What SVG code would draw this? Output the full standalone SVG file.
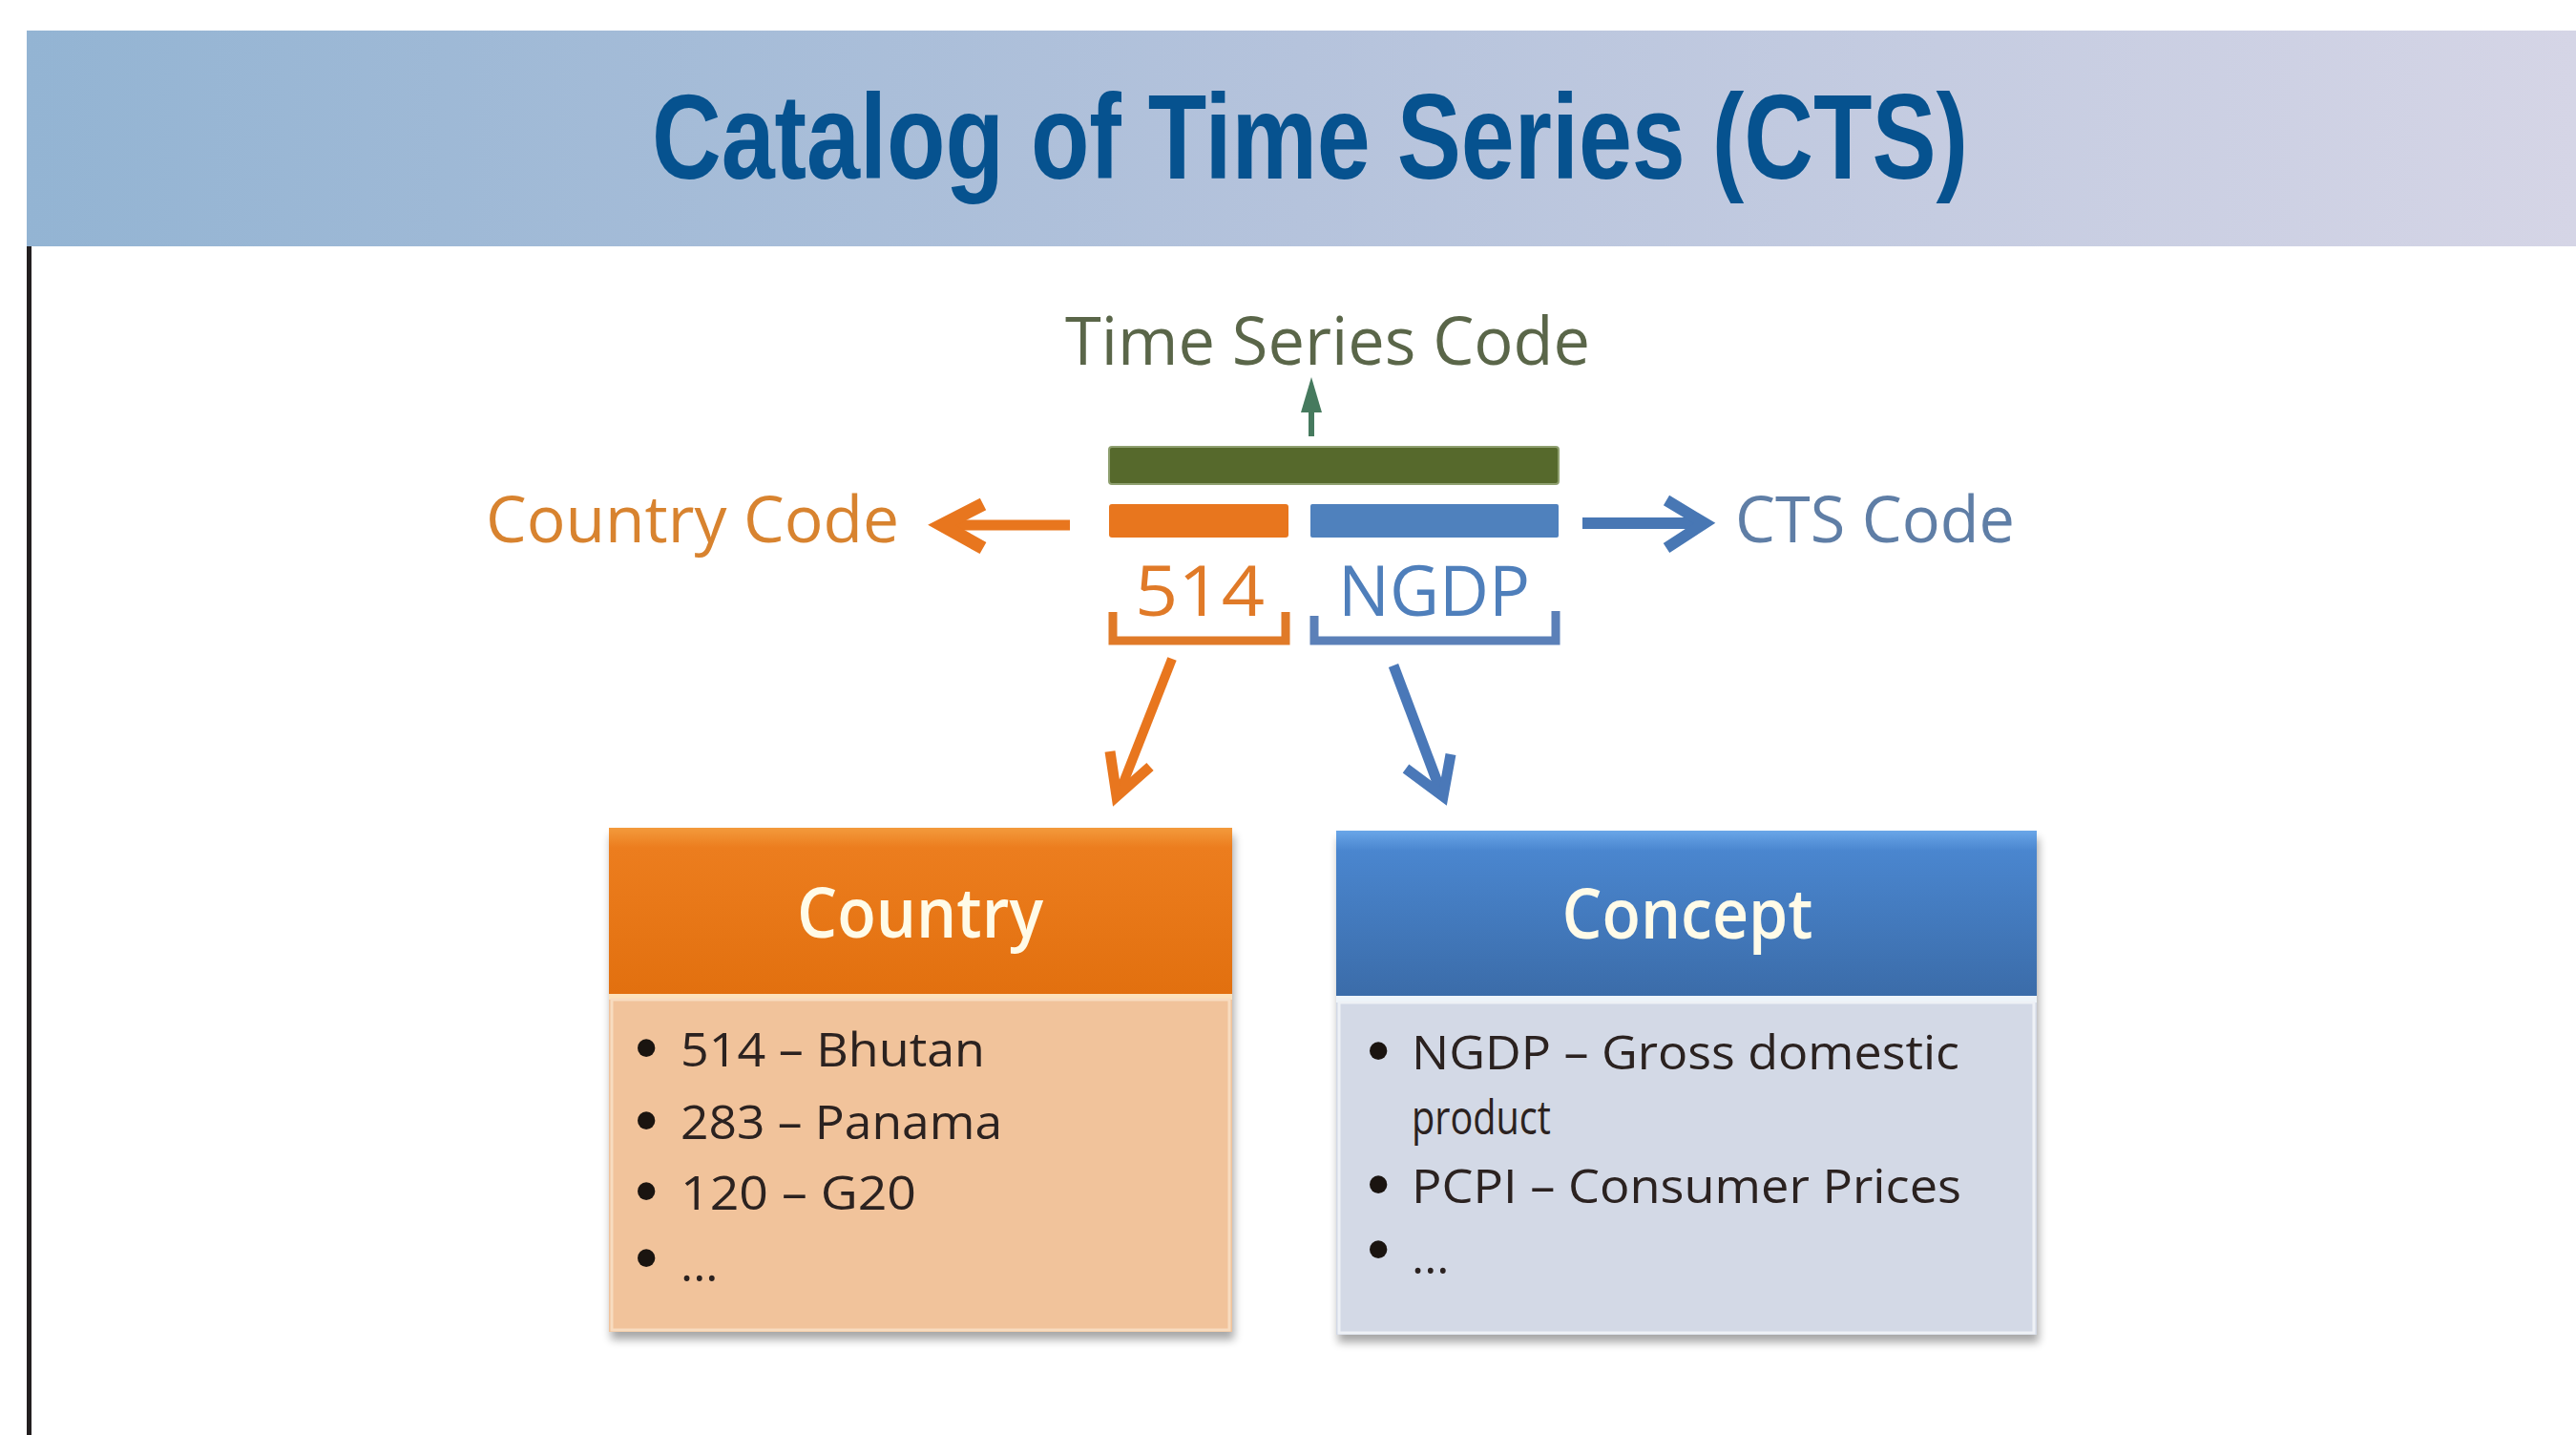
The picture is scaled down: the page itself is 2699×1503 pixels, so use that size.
<svg xmlns="http://www.w3.org/2000/svg" width="2699" height="1503" viewBox="0 0 2699 1503">
<defs>
<linearGradient id="band" x1="0" y1="0" x2="1" y2="0">
<stop offset="0" stop-color="#93b4d3"/>
<stop offset="0.5" stop-color="#b5c3dc"/>
<stop offset="1" stop-color="#d5d5e6"/>
</linearGradient>
<linearGradient id="orgHead" x1="0" y1="0" x2="0" y2="1">
<stop offset="0" stop-color="#f39a3c"/>
<stop offset="0.12" stop-color="#ec7d1e"/>
<stop offset="1" stop-color="#e2700f"/>
</linearGradient>
<linearGradient id="bluHead" x1="0" y1="0" x2="0" y2="1">
<stop offset="0" stop-color="#6aa6e8"/>
<stop offset="0.12" stop-color="#4a86cf"/>
<stop offset="1" stop-color="#3b6ca9"/>
</linearGradient>
<filter id="shadow" x="-5%" y="-5%" width="110%" height="115%">
<feGaussianBlur in="SourceAlpha" stdDeviation="5"/>
<feOffset dx="2" dy="8" result="b"/>
<feComponentTransfer><feFuncA type="linear" slope="0.35"/></feComponentTransfer>
<feMerge><feMergeNode/><feMergeNode in="SourceGraphic"/></feMerge>
</filter>
</defs>
<style>
.lbl{font-family:"Open Sans","Noto Sans","Liberation Sans",sans-serif;}
.item{font-family:"Open Sans","Noto Sans","Liberation Sans",sans-serif;font-size:50px;fill:#2b2220;}
.bul{font-family:"Liberation Sans","DejaVu Sans",sans-serif;font-size:64px;font-weight:bold;fill:#1a1410;}
.head{font-family:"Open Sans","Noto Sans","Liberation Sans",sans-serif;font-size:72px;font-weight:600;fill:#fffbe8;}
</style>
<rect x="0" y="0" width="2699" height="1503" fill="#ffffff"/>

<g id="title-band">
<rect x="28" y="32" width="2671" height="226" fill="url(#band)"/>
<text x="683" y="187" font-family="'Liberation Sans',Arial,sans-serif" font-weight="bold" font-size="126" fill="#06528f" textLength="1379" lengthAdjust="spacingAndGlyphs">Catalog of Time Series (CTS)</text>
</g>
<rect id="left-rule" x="28" y="258" width="5" height="1245" fill="#231f20"/>

<g id="time-series-code">
<text class="lbl" x="1116" y="382" font-size="70" fill="#5a6649" textLength="550" lengthAdjust="spacingAndGlyphs">Time Series Code</text>
</g>
<g id="country-code">
<text class="lbl" x="509" y="568" font-size="68" fill="#d8832f" textLength="433" lengthAdjust="spacingAndGlyphs">Country Code</text>
</g>
<g id="cts-code">
<text class="lbl" x="1818" y="568" font-size="68" fill="#5f7ea6" textLength="293" lengthAdjust="spacingAndGlyphs">CTS Code</text>
</g>

<g id="code-bars">
<rect x="1162" y="468" width="471" height="39" rx="3" fill="#56692c" stroke="#8fa070" stroke-width="2"/>
<rect x="1162" y="528" width="188" height="35" rx="3" fill="#e8761e"/>
<rect x="1373" y="528" width="260" height="35" rx="2" fill="#4f81bd"/>
</g>

<g id="code-514">
<text class="lbl" x="1189" y="645" font-size="74" fill="#e07a28" textLength="136" lengthAdjust="spacingAndGlyphs">514</text>
<path d="M1166,641 V671 H1347 V641" fill="none" stroke="#e07a28" stroke-width="9"/>
</g>
<g id="code-ngdp">
<text class="lbl" x="1402" y="645" font-size="74" fill="#4f7fbb" textLength="201" lengthAdjust="spacingAndGlyphs">NGDP</text>
<path d="M1377,645 V671 H1630 V640" fill="none" stroke="#5b80b8" stroke-width="9"/>
</g>

<g id="connectors">
<line x1="1374" y1="457" x2="1374" y2="425" stroke="#467a5e" stroke-width="6"/>
<polygon points="1374,395 1363,432 1385,432" fill="#467a5e"/>
<line x1="1121" y1="550" x2="992" y2="550" stroke="#e8761e" stroke-width="11"/>
<polyline points="1030,528 987,550 1030,574" fill="none" stroke="#e8761e" stroke-width="14" stroke-linejoin="miter"/>
<line x1="1658" y1="548" x2="1782" y2="548" stroke="#4877b4" stroke-width="12"/>
<polyline points="1746,524 1786,548 1746,574" fill="none" stroke="#4877b4" stroke-width="12" stroke-linejoin="miter"/>
<line x1="1228" y1="690" x2="1173" y2="830" stroke="#e8761e" stroke-width="10"/>
<polyline points="1163,787 1170,834 1205,803" fill="none" stroke="#e8761e" stroke-width="11" stroke-linejoin="miter"/>
<line x1="1460" y1="697" x2="1510" y2="830" stroke="#4a78b8" stroke-width="11"/>
<polyline points="1473,805 1512,834 1520,790" fill="none" stroke="#4a78b8" stroke-width="11" stroke-linejoin="miter"/>
</g>

<g id="country-box">
<g filter="url(#shadow)">
<rect x="638" y="867" width="653" height="528" fill="#f1c39b"/>
</g>
<rect x="638" y="867" width="653" height="174" fill="url(#orgHead)"/>
<rect x="638" y="1041" width="653" height="6" fill="#fde2bb"/>
<rect x="641" y="1047" width="647" height="346" fill="#f1c39b" stroke="#f8dcc0" stroke-width="3"/>
<text class="head" x="964" y="982" text-anchor="middle" textLength="258" lengthAdjust="spacingAndGlyphs">Country</text>
<text class="bul" x="666" y="1119">•</text>
<text class="item" x="713" y="1117" textLength="319" lengthAdjust="spacingAndGlyphs">514 – Bhutan</text>
<text class="bul" x="666" y="1195">•</text>
<text class="item" x="713" y="1193" textLength="337" lengthAdjust="spacingAndGlyphs">283 – Panama</text>
<text class="bul" x="666" y="1269">•</text>
<text class="item" x="713" y="1267" textLength="247" lengthAdjust="spacingAndGlyphs">120 – G20</text>
<text class="bul" x="666" y="1339">•</text>
<text class="item" x="713" y="1342">...</text>
</g>

<g id="concept-box">
<g filter="url(#shadow)">
<rect x="1400" y="870" width="734" height="528" fill="#d3d9e6"/>
</g>
<rect x="1400" y="870" width="734" height="173" fill="url(#bluHead)"/>
<rect x="1400" y="1043" width="734" height="7" fill="#eef4fa"/>
<rect x="1403" y="1050" width="728" height="346" fill="#d3d9e6" stroke="#eef1f6" stroke-width="3"/>
<text class="head" x="1768" y="983" text-anchor="middle" textLength="263" lengthAdjust="spacingAndGlyphs">Concept</text>
<text class="bul" x="1433" y="1122">•</text>
<text class="item" x="1479" y="1120" textLength="574" lengthAdjust="spacingAndGlyphs">NGDP – Gross domestic</text>
<text class="item" x="1479" y="1188" textLength="146" lengthAdjust="spacingAndGlyphs">product</text>
<text class="bul" x="1433" y="1262">•</text>
<text class="item" x="1479" y="1260" textLength="576" lengthAdjust="spacingAndGlyphs">PCPI – Consumer Prices</text>
<text class="bul" x="1433" y="1330">•</text>
<text class="item" x="1479" y="1334">...</text>
</g>
</svg>
